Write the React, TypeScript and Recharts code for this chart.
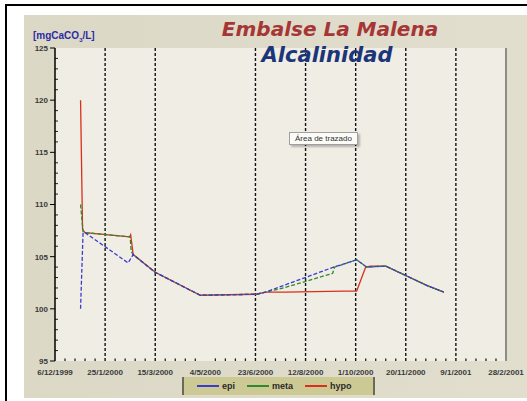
import React from 'react';
import { LineChart, Line, XAxis, YAxis, ReferenceLine, Legend, CartesianGrid } from 'recharts';

// X axis: days since 6/12/1999
const dateTicks = [0, 50, 100, 150, 200, 250, 300, 350, 400, 450];
const dateLabels = ['6/12/1999', '25/1/2000', '15/3/2000', '4/5/2000', '23/6/2000', '12/8/2000', '1/10/2000', '20/11/2000', '9/1/2001', '28/2/2001'];
const samplingLines = [50, 100, 200, 250, 300, 350, 400];
const yTicks = [95, 100, 105, 110, 115, 120, 125];

const epiDays = [25.5, 28, 30, 73, 78, 100, 145, 201, 210, 278, 301, 311, 330, 352, 372, 388];
const epiValues = [100.0, 107.3, 107.3, 104.4, 105.2, 103.5, 101.3, 101.4, 101.6, 104.0, 104.7, 104.0, 104.1, 103.1, 102.2, 101.6];

const metaDays = [25.5, 28, 30, 75, 76, 78, 100, 145, 201, 210, 228, 277, 279, 301, 311, 330, 352, 372, 388];
const metaValues = [110.0, 107.4, 107.3, 106.9, 105.5, 105.2, 103.5, 101.3, 101.4, 101.6, 102.0, 103.4, 104.0, 104.7, 104.0, 104.1, 103.1, 102.2, 101.6];

const hypoDays = [25.5, 27.5, 30, 74.5, 75.5, 78, 100, 145, 201, 210, 230, 288, 301, 310, 315, 330, 352, 372, 388];
const hypoValues = [120.0, 107.6, 107.3, 106.9, 107.1, 105.2, 103.5, 101.3, 101.4, 101.6, 101.6, 101.7, 101.7, 104.0, 104.1, 104.1, 103.1, 102.2, 101.6];

const seriesOrder = ['epi', 'meta', 'hypo'];

const toData = (days: number[], vals: number[]) => days.map((d, i) => ({ d, v: vals[i] }));
const epiData = toData(epiDays, epiValues);
const metaData = toData(metaDays, metaValues);
const hypoData = toData(hypoDays, hypoValues);

const xMinor: number[] = [];
for (let d = 10; d < 450; d += 10) if (d % 50 !== 0) xMinor.push(d);
const yMinor: number[] = [];
for (let v = 96; v < 125; v++) if (v % 5 !== 0) yMinor.push(v);

const FONT = 'Arial, "Liberation Sans", sans-serif';

const YTick = (props: any) => {
  const { x, y, payload } = props;
  return (
    <text x={x} y={y} dy="0.355em" textAnchor="end" fontSize={8} fontWeight="bold" fill="#3a3a3a" fontFamily={FONT}>
      {payload.value}
    </text>
  );
};

const XTick = (props: any) => {
  const { x, y, payload } = props;
  const idx = dateTicks.indexOf(payload.value);
  return (
    <text x={x} y={y} dy="0.71em" textAnchor="middle" fontSize={8} fontWeight="bold" fill="#3a3a3a" fontFamily={FONT}>
      {dateLabels[idx]}
    </text>
  );
};

const LegendContent = (props: any) => {
  const payload = [...(props.payload || [])].sort(
    (a: any, b: any) => seriesOrder.indexOf(a.value) - seriesOrder.indexOf(b.value)
  );
  return (
    <div
      style={{
        width: 193,
        height: 18,
        boxSizing: 'border-box',
        background: '#cdc995',
        borderLeft: '2px solid #6a6a5a',
        borderRight: '2px solid #6a6a5a',
        display: 'flex',
        alignItems: 'center',
        paddingLeft: 13,
        fontFamily: FONT,
        fontSize: 9,
        fontWeight: 'bold',
        color: '#2a2a2a',
      }}
    >
      {payload.map((p: any) => (
        <div key={p.value} style={{ display: 'flex', alignItems: 'center', marginRight: 12 }}>
          <div style={{ width: 22, height: 1.5, background: p.color, marginRight: 3 }} />
          <span>{p.value}</span>
        </div>
      ))}
    </div>
  );
};

export default function App() {
  return (
    <div style={{ position: 'absolute', left: 0, top: 0, width: 527, height: 401, background: '#ffffff', overflow: 'hidden' }}>
      <div style={{ position: 'absolute', left: 5, top: 4, width: 530, height: 410, borderLeft: '2px solid #000', borderTop: '2px solid #000' }} />
      <div style={{ position: 'absolute', left: 24, top: 15, width: 503, height: 383, background: 'linear-gradient(90deg, #dcd8c6 0%, #e2dece 100%)' }} />
      <div style={{ position: 'absolute', left: 0, top: 0 }}>
        <LineChart width={527} height={401} margin={{ top: 48, right: 21, bottom: 0, left: 0 }}>
          <CartesianGrid horizontal={false} vertical={false} fill="#efede4" />
          <XAxis
            type="number"
            dataKey="d"
            domain={[0, 450]}
            ticks={dateTicks}
            allowDataOverflow
            height={40}
            axisLine={false}
            tickLine={false}
            tickSize={6}
            tickMargin={2}
            tick={<XTick />}
            interval={0}
          />
          <YAxis
            type="number"
            dataKey="v"
            domain={[95, 125]}
            ticks={yTicks}
            allowDataOverflow
            width={55}
            axisLine={{ stroke: '#000', strokeWidth: 1.5 }}
            tickLine={{ stroke: '#000', strokeWidth: 1 }}
            tickSize={5}
            tickMargin={2}
            tick={<YTick />}
            interval={0}
          />
          {samplingLines.map((d) => (
            <ReferenceLine key={'g' + d} x={d} stroke="#111" strokeWidth={1.4} strokeDasharray="3 2" />
          ))}
          <ReferenceLine x={450} stroke="#8c8c88" strokeWidth={2} />
          {xMinor.map((d) => (
            <ReferenceLine key={'xm' + d} segment={[{ x: d, y: 95 }, { x: d, y: 95.25 }]} stroke="#222" strokeWidth={1.3} />
          ))}
          {yMinor.map((v) => (
            <ReferenceLine key={'ym' + v} segment={[{ x: 0, y: v }, { x: 3, y: v }]} stroke="#222" strokeWidth={1} />
          ))}
          <Line data={hypoData} dataKey="v" name="hypo" type="linear" stroke="#d8301c" strokeWidth={1.3} dot={false} isAnimationActive={false} />
          <Line data={metaData} dataKey="v" name="meta" type="linear" stroke="#2d8a2d" strokeWidth={1.3} strokeDasharray="4 2" dot={false} isAnimationActive={false} />
          <Line data={epiData} dataKey="v" name="epi" type="linear" stroke="#3b3bcf" strokeWidth={1.3} strokeDasharray="4 2" dot={false} isAnimationActive={false} />
          <Legend
            layout="horizontal"
            verticalAlign="middle"
            align="center"
            content={<LegendContent />}
            wrapperStyle={{ left: 182, top: 377, width: 193, height: 18 }}
          />
        </LineChart>
      </div>
      <div style={{ position: 'absolute', left: 180, top: 19, width: 300, textAlign: 'center', fontFamily: '"DejaVu Sans", sans-serif', fontWeight: 'bold', fontStyle: 'italic', fontSize: 20, lineHeight: '20px', color: '#a63636' }}>
        Embalse La Malena
      </div>
      <div style={{ position: 'absolute', left: 227, top: 45, width: 200, textAlign: 'center', fontFamily: '"DejaVu Sans", sans-serif', fontWeight: 'bold', fontStyle: 'italic', fontSize: 21, lineHeight: '21px', color: '#1b3578' }}>
        Alcalinidad
      </div>
      <div style={{ position: 'absolute', left: 33, top: 31, fontFamily: FONT, fontWeight: 'bold', fontSize: 10, lineHeight: '10px', color: '#2c2ca4', whiteSpace: 'nowrap' }}>
        [mgCaCO<sub style={{ fontSize: 6, lineHeight: '6px' }}>3</sub>/L]
      </div>
      <div style={{ position: 'absolute', left: 289, top: 132, width: 67, height: 11, background: '#fbfbf8', border: '1px solid #a0a0a0', boxShadow: '2px 2px 2px rgba(0,0,0,0.25)', fontFamily: FONT, fontSize: 8, lineHeight: '11px', color: '#333', textAlign: 'center', whiteSpace: 'nowrap' }}>
        Área de trazado
      </div>
    </div>
  );
}
